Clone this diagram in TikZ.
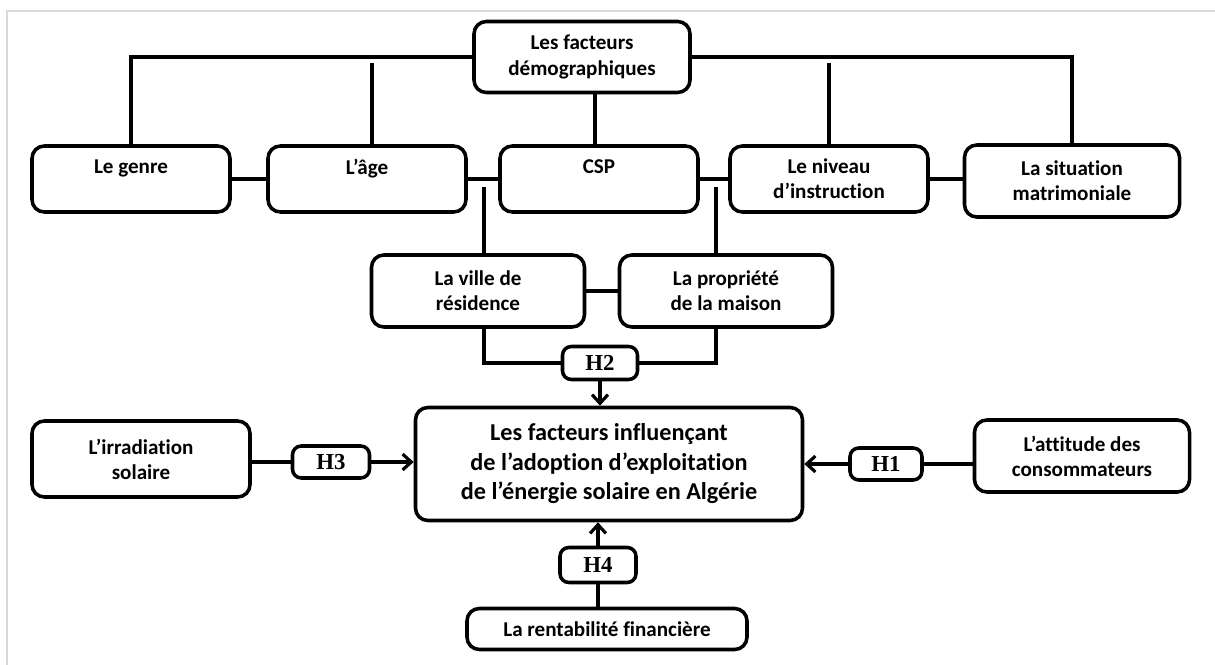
\documentclass[tikz,border=0pt]{standalone}
\usepackage{fontspec}
\setmainfont{Carlito}[Ligatures=NoCommon]
\newfontfamily\hypofont{Liberation Serif}
\usetikzlibrary{arrows.meta}
\definecolor{framegray}{RGB}{218, 218, 218}
\tikzset{
  factor/.style={
    draw,
    fill=white,
    line width=2pt,
    rounded corners=7pt,
    align=center,
    inner sep=2pt,
    font=\fontsize{12}{14.3}\selectfont\bfseries},
  hypo/.style={
    draw,
    fill=white,
    line width=2pt,
    rounded corners=5pt,
    inner sep=1pt,
    font=\fontsize{13}{15}\selectfont\hypofont\bfseries},
  tie/.style={line width=2.2pt},
  influence/.style={
    line width=2.2pt,
    -{Straight Barb[length=5pt,width=9pt,line width=1.8pt]}}
}

\begin{document}
\begin{tikzpicture}[x=0.02cm, y=-0.02cm]
  \useasboundingbox (0,0) rectangle (1215,665);
  \draw[framegray, line width=1pt] (7,665) -- (7,11) -- (1215,11);

  % demographic factors
  \node (demo) [factor, minimum width=216*0.02cm, minimum height=71*0.02cm] at (582,57) {Les facteurs\\démographiques};
  \node (genre) [factor, minimum width=198*0.02cm, minimum height=66*0.02cm] at (131,179) {Le genre\\\mbox{}};
  \node (age) [factor, minimum width=198*0.02cm, minimum height=66*0.02cm] at (367,179) {L’âge\\\mbox{}};
  \node (csp) [factor, minimum width=198*0.02cm, minimum height=66*0.02cm] at (599,179) {CSP\\\mbox{}};
  \node (niveau) [factor, minimum width=198*0.02cm, minimum height=66*0.02cm] at (829,179) {Le niveau\\d’instruction};
  \node (situation) [factor, minimum width=215*0.02cm, minimum height=72*0.02cm] at (1072,181) {La situation\\matrimoniale};
  \node (ville) [factor, minimum width=213*0.02cm, minimum height=72*0.02cm] at (478,291) {La ville de\\résidence};
  \node (propriete) [factor, minimum width=213*0.02cm, minimum height=72*0.02cm] at (726,291) {La propriété\\de la maison};

  % central box and the other factors
  \node (central) [factor, minimum width=387*0.02cm, minimum height=113*0.02cm,
    font=\fontsize{13.8}{16.8}\selectfont\bfseries] at (609,464)
    {Les facteurs influençant\\de l’adoption d’exploitation\\de l’énergie solaire en Algérie};
  \node (irradiation) [factor, minimum width=218*0.02cm, minimum height=76*0.02cm] at (141,459) {L’irradiation\\solaire};
  \node (attitude) [factor, minimum width=215*0.02cm, minimum height=72*0.02cm] at (1082,456) {L’attitude des\\consommateurs};
  \node (rentabilite) [factor, minimum width=280*0.02cm, minimum height=41*0.02cm] at (607,629) {La rentabilité financière};

  % hypotheses
  \node (h2) [hypo, minimum width=75*0.02cm, minimum height=33*0.02cm] at (600,363) {H2};
  \node (h3) [hypo, minimum width=77*0.02cm, minimum height=32*0.02cm] at (331,462) {H3};
  \node (h1) [hypo, minimum width=72*0.02cm, minimum height=32*0.02cm] at (886,464) {H1};
  \node (h4) [hypo, minimum width=76*0.02cm, minimum height=35*0.02cm] at (598,565) {H4};

  % tree of demographic factors
  \draw[tie] (demo.west) -| (genre.north);
  \draw[tie] (demo.east) -| (situation.north);
  \draw[tie] ([xshift=-0.08cm]csp.north |- demo.south) -- ([xshift=-0.08cm]csp.north);
  \draw[tie] ([xshift=0.1cm]age.north) -- ++(0,-81);
  \draw[tie] (niveau.north) -- ++(0,-81);
  \draw[tie] (genre.east) -- (age.west);
  \draw[tie] (age.east) -- (csp.west);
  \draw[tie] (csp.east) -- (niveau.west);
  \draw[tie] (niveau.east) -- (situation.west |- niveau.east);
  \draw[tie] ([xshift=0.12cm]ville.north) -- ++(0,-66);
  \draw[tie] ([xshift=-0.2cm]propriete.north) -- ++(0,-66);
  \draw[tie] (ville.east) -- (propriete.west);
  \draw[tie] ([xshift=0.12cm]ville.south) |- (h2.west);
  \draw[tie] ([xshift=-0.2cm]propriete.south) |- (h2.east);

  % hypotheses to central box
  \draw[influence] (h2.south) -- (h2.south |- central.north);
  \draw[tie] (irradiation.east |- h3.west) -- (h3.west);
  \draw[influence] (h3.east) -- (central.west |- h3.east);
  \draw[tie] (attitude.west |- h1.east) -- (h1.east);
  \draw[influence] (h1.west) -- (central.east |- h1.west);
  \draw[tie] (rentabilite.north -| h4.south) -- (h4.south);
  \draw[influence] (h4.north) -- (h4.north |- central.south);
\end{tikzpicture}
\end{document}
